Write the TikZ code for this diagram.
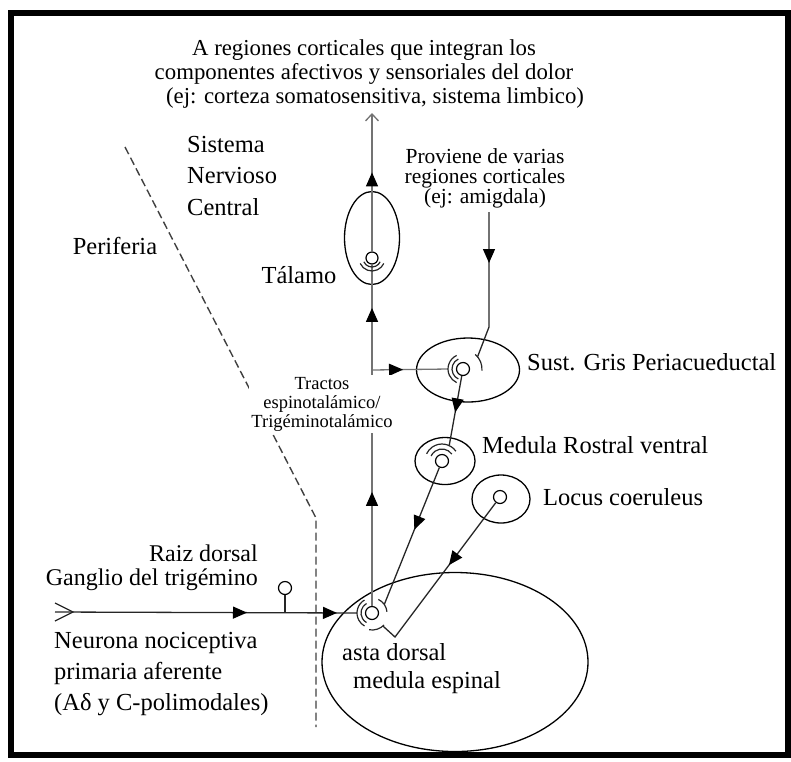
\documentclass[tikz,border=0pt]{standalone}
\usepackage{fontspec}
\setmainfont{Liberation Serif}
\usetikzlibrary{arrows.meta,decorations.markings,shapes.geometric,calc}
\begin{document}
\begin{tikzpicture}[x=1pt,y=1pt,
  ln/.style={line width=1.3pt, black!85},
  tract/.style={line width=1.3pt, black!55},
  nucleus/.style={draw, ellipse, line width=1.3pt, inner sep=0pt},
  soma/.style={draw, circle, line width=1.2pt, inner sep=0pt, minimum size=13pt},
  lbl/.style={font=\fontsize{24.5}{26}\selectfont, inner sep=0pt},
  midarr/.style={postaction={decorate, decoration={markings, mark=at position #1 with {\arrow[black]{Triangle[length=14pt,width=12pt]}}}}},
  term/.style={line width=1.2pt, black!85},
  border/.style={line width=6pt},
  dashline/.style={line width=1.4pt, black!75, dash pattern=on 8pt off 4pt},
]
\useasboundingbox (0,0) rectangle (791,-761);
\draw[border] (11,-13) rectangle (788,-755);

% nuclei
\node[nucleus, minimum width=55pt, minimum height=93pt] (thal) at (372,-238) {};
\node[nucleus, minimum width=103pt, minimum height=64pt] (pag) at (468,-370) {};
\node[nucleus, minimum width=60pt, minimum height=47pt] (mrv) at (445,-461) {};
\node[nucleus, minimum width=58pt, minimum height=48pt] (lc) at (501,-499) {};
\node[nucleus, minimum width=266pt, minimum height=179pt] (dh) at (455,-662) {};

% cell bodies
\node[soma, minimum size=12pt] (thalC) at (372,-258) {};
\node[soma] (pagC) at (463,-369) {};
\node[soma] (mrvC) at (442,-461) {};
\node[soma] (lcC) at (500,-497) {};
\node[soma] (dhC) at (372,-613) {};
\node[soma] (gang) at (285,-588) {};

% coordinates
\coordinate (topTip) at (372,-113);
\coordinate (br) at (372,-370);
\coordinate (inStart) at (55,-612);
\coordinate (amyTop) at (489,-212);
\coordinate (amyBend) at (489,-327);
\coordinate (pagIn) at ($(pagC.center)+(180:15)$);
\coordinate (amyEnd) at ($(pagC.center)+(40:19)$);
\coordinate (mrvIn) at ($(mrvC.center)+(65:17)$);
\coordinate (dhIn) at ($(dhC.center)+(180:15)$);
\coordinate (dhMrv) at ($(dhC.center)+(35:15)$);
\coordinate (dhLc) at ($(dhC.center)+(-50:17)$);
\coordinate (lcBend) at (395,-637);
\coordinate (gangBase) at (285,-612);
\coordinate (dashA) at (125,-147);
\coordinate (dashB) at (316,-518);
\coordinate (dashC) at (316,-727);

% boundary periphery / CNS
\draw[dashline] (dashA) -- (dashB) -- (dashC);

% ascending tract
\draw[tract, midarr=114pt, midarr=298pt] (dhC) -- (thalC);
\draw[tract, midarr=79pt, -{Straight Barb[length=7pt,width=13pt]}] (thalC) -- (topTip);
\draw[tract, midarr=31pt] (br) -- (pagIn);

% primary afferent
\draw[ln, midarr=192pt, midarr=282pt] (inStart) -- (dhIn);
\draw[ln] ($(inStart)+(0,9)$) -- ($(inStart)+(18,0)$) -- ($(inStart)+(0,-9)$);
\draw[ln] (gang) -- (gangBase);

% descending
\draw[ln, midarr=51pt] (amyTop) -- (amyBend) -- (amyEnd);
\draw[ln, midarr=37pt] (pagC) -- (mrvIn);
\draw[ln, midarr=67pt] (mrvC) -- (dhMrv);
\draw[ln, midarr=78pt] (lcC) -- (lcBend) -- (dhLc);

% synaptic terminals
\draw[term] (thalC.center) ++(205:9) arc[start angle=205, end angle=335, radius=9];
\draw[term] (thalC.center) ++(205:13) arc[start angle=205, end angle=335, radius=13];
\draw[term] (pagC.center) ++(115:11) arc[start angle=115, end angle=245, radius=11];
\draw[term] (pagC.center) ++(115:15) arc[start angle=115, end angle=245, radius=15];
\draw[term] (pagC.center) ++(-5:19) arc[start angle=-5, end angle=50, radius=19];
\draw[term] (mrvC.center) ++(35:12) arc[start angle=35, end angle=155, radius=12];
\draw[term] (mrvC.center) ++(35:17) arc[start angle=35, end angle=155, radius=17];
\draw[term] (dhC.center) ++(120:11) arc[start angle=120, end angle=240, radius=11];
\draw[term] (dhC.center) ++(120:15) arc[start angle=120, end angle=240, radius=15];
\draw[term] (dhC.center) ++(5:15) arc[start angle=5, end angle=65, radius=15];
\draw[term] (dhC.center) ++(-100:17) arc[start angle=-100, end angle=-45, radius=17];

% labels
\node[lbl, align=center, font=\fontsize{22.8}{24}\selectfont] (topTxt) at (364,-74)
  {A regiones corticales que integran los\\ componentes afectivos y sensoriales del dolor\\ \hspace*{22pt}(ej: corteza somatosensitiva, sistema limbico)};
\node[lbl, anchor=west, align=left, font=\fontsize{24.5}{31.5}\selectfont] (snc) at (187,-176) {Sistema\\Nervioso\\Central};
\node[lbl] (perif) at (115,-246) {Periferia};
\node[lbl] (talamo) at (299,-275) {Tálamo};
\node[lbl, align=center, font=\fontsize{21.5}{20}\selectfont] (prov) at (485,-178) {Proviene de varias\\regiones corticales\\(ej: amigdala)};
\node[lbl, anchor=west] (pagL) at (527,-362) {Sust. Gris Periacueductal};
\node[lbl, anchor=west] (mrvL) at (482,-445) {Medula Rostral ventral};
\node[lbl, anchor=west] (lcL) at (543,-497) {Locus coeruleus};
\node[lbl, anchor=east, align=right, font=\fontsize{24}{24}\selectfont] (raiz) at (258,-568) {Raiz dorsal\\Ganglio del trigémino};
\node[lbl, anchor=west, align=left, font=\fontsize{24.5}{31}\selectfont] (neur) at (54,-674) {Neurona nociceptiva\\primaria aferente\\(Aδ y C-polimodales)};
\node[lbl, anchor=west, align=left, font=\fontsize{24.5}{28}\selectfont] (asta) at (342,-669) {asta dorsal\\\hspace*{11pt}medula espinal};
\node[lbl, fill=white, inner sep=2pt, align=center, font=\fontsize{18.5}{19}\selectfont] (tract) at (322,-404) {Tractos\\espinotalámico/\\Trigéminotalámico};
\end{tikzpicture}
\end{document}
